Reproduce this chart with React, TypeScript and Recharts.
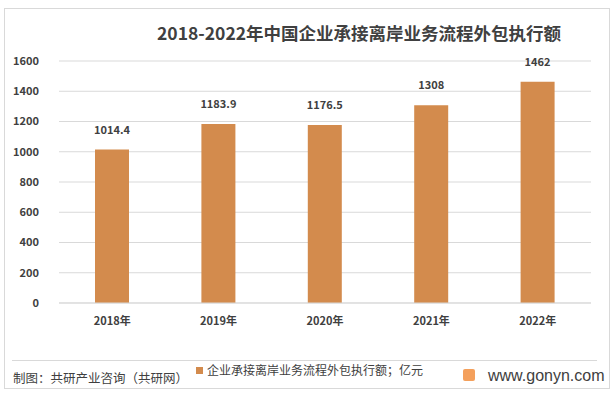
import { Bar, BarChart, CartesianGrid, LabelList, XAxis, YAxis } from 'recharts'

const years = ['2018年', '2019年', '2020年', '2021年', '2022年']
const amounts = [1014.4, 1183.9, 1176.5, 1308, 1462]
const yTicks = [0, 200, 400, 600, 800, 1000, 1200, 1400, 1600]

const rows = years.map((year, i) => ({ year, value: amounts[i] }))

const font = '"Microsoft YaHei", "Noto Sans CJK SC", "Noto Sans", sans-serif'

export default function App() {
  return (
    <div style={{ position: 'absolute', left: 0, top: 0, width: 614, height: 397, background: '#fff', fontFamily: font }}>
      {/* outer frame */}
      <div style={{ position: 'absolute', left: 4, top: 8, width: 606, height: 381, border: '1px solid #d9d9d9', boxSizing: 'border-box' }} />

      <div style={{ position: 'absolute', left: 157, top: 20, whiteSpace: 'nowrap', fontSize: 17.5, fontWeight: 'bold', color: '#404040', lineHeight: '26px' }}>
        2018-2022年中国企业承接离岸业务流程外包执行额
      </div>

      <div style={{ position: 'absolute', left: 0, top: 0 }}>
        <BarChart width={614} height={397} data={rows} margin={{ top: 61, right: 23, bottom: 64, left: 0 }}>
          <CartesianGrid vertical={false} stroke="#d9d9d9" />
          <XAxis
            dataKey="year"
            height={30}
            tickLine={false}
            axisLine={{ stroke: '#d9d9d9' }}
            tick={{ fontSize: 11, fill: '#404040', fontWeight: 'bold', fontFamily: font }}
            tickMargin={8}
          />
          <YAxis
            width={59}
            domain={[0, 1600]}
            ticks={yTicks}
            tickLine={false}
            axisLine={false}
            tick={{ fontSize: 11, fill: '#404040', fontWeight: 'bold', fontFamily: font }}
            tickMargin={14}
          />
          <Bar dataKey="value" fill="#D38B4D" barSize={34} isAnimationActive={false}>
            <LabelList
              dataKey="value"
              position="top"
              offset={16}
              style={{ fontSize: 11, fill: '#404040', fontWeight: 'bold', fontFamily: font }}
            />
          </Bar>
        </BarChart>
      </div>

      {/* footer separator */}
      <div style={{ position: 'absolute', left: 12, top: 360, width: 585, height: 1, background: '#d9d9d9' }} />

      <div style={{ position: 'absolute', left: 196, top: 362, display: 'flex', alignItems: 'center', fontSize: 12, color: '#404040', lineHeight: '16px', whiteSpace: 'nowrap' }}>
        <span style={{ display: 'inline-block', width: 7, height: 7, background: '#D38B4D', marginRight: 4 }} />
        企业承接离岸业务流程外包执行额；亿元
      </div>

      <div style={{ position: 'absolute', left: 13, top: 369, fontSize: 12.5, color: '#404040', lineHeight: '18px', whiteSpace: 'nowrap' }}>
        制图：共研产业咨询（共研网）
      </div>

      <div style={{ position: 'absolute', left: 463, top: 369, width: 12, height: 12, background: '#f4a05c', borderRadius: 2 }} />
      <div style={{ position: 'absolute', left: 488, top: 366, fontSize: 16, color: '#404040', lineHeight: '20px', fontFamily: 'Arial, "Liberation Sans", sans-serif', whiteSpace: 'nowrap' }}>
        www.gonyn.com
      </div>
    </div>
  )
}
